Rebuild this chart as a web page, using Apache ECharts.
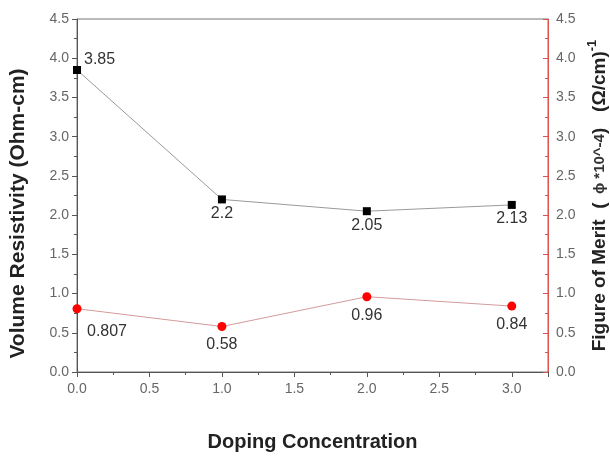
<!DOCTYPE html>
<html><head><meta charset="utf-8">
<script src="https://cdn.jsdelivr.net/npm/echarts@6/dist/echarts.min.js"></script>
<style>html,body{margin:0;padding:0;background:#fff}#c{width:610px;height:464px}</style>
</head><body><div id="c"></div>
<script>
const doping = [0, 1, 2, 3];
const resistivity = [3.85, 2.2, 2.05, 2.13];
const merit = [0.807, 0.58, 0.96, 0.84];
const resLabelPos = ['right', 'bottom', 'bottom', 'bottom'];
const meritLabelPos = ['bottom', 'bottom', 'bottom', 'bottom'];

const chart = echarts.init(document.getElementById('c'));
const FF = 'Liberation Sans, Arial';
const tickLabel = {color: '#666', fontSize: 14, fontFamily: FF};

chart.setOption({
  animation: false,
  grid: {left: 77, right: 62, top: 19, bottom: 92, show: true, borderColor: '#777', borderWidth: 1, containLabel: false, outerBoundsMode: 'none'},
  xAxis: {
    type: 'value', min: 0, max: 3.25, interval: 0.5,
    name: 'Doping Concentration', nameLocation: 'middle', nameGap: 60,
    nameTextStyle: {color: '#222', fontSize: 20, fontWeight: 'bold', fontFamily: FF},
    axisLine: {lineStyle: {color: '#555'}},
    axisTick: {inside: false, length: 5, lineStyle: {color: '#555'}},
    minorTick: {show: true, splitNumber: 2, length: 3, lineStyle: {color: '#555'}},
    splitLine: {show: false},
    axisLabel: Object.assign({margin: 10, formatter: v => (v > 3.1 ? '' : v.toFixed(1)), showMaxLabel: false}, tickLabel)
  },
  yAxis: [{
    type: 'value', min: 0, max: 4.5, interval: 0.5, position: 'left',
    name: 'Volume Resistivity (Ohm-cm)', nameLocation: 'middle', nameGap: 48, nameRotate: 90,
    nameTextStyle: {color: '#222', fontSize: 21, fontWeight: 'bold', fontFamily: FF, padding: [0, 36, 0, 0]},
    axisLine: {show: true, lineStyle: {color: '#555'}},
    axisTick: {show: true, length: 5, lineStyle: {color: '#555'}},
    minorTick: {show: true, splitNumber: 2, length: 3, lineStyle: {color: '#555'}},
    splitLine: {show: false},
    axisLabel: Object.assign({margin: 8, formatter: v => v.toFixed(1)}, tickLabel)
  }, {
    type: 'value', min: 0, max: 4.5, interval: 0.5, position: 'right',
    name: '{n|Figure of Merit  (}{p|  ϕ *10^-4}{n|)   (Ω/cm)}{s|-1}', nameLocation: 'middle', nameGap: 32, nameRotate: 90,
    nameTextStyle: {rich: {
      n: {color: '#222', fontSize: 19, fontWeight: 'bold', fontFamily: FF},
      p: {color: '#333', fontSize: 15, fontWeight: 'bold', fontFamily: FF},
      s: {color: '#222', fontSize: 13, fontWeight: 'bold', fontFamily: FF, verticalAlign: 'top', padding: [0, 0, 13, 0]}
    }},
    axisLine: {show: true, lineStyle: {color: '#d9534f'}},
    axisTick: {show: true, inside: true, length: 5, lineStyle: {color: '#d9534f'}},
    minorTick: {show: true, splitNumber: 2, length: 3, lineStyle: {color: '#d9534f'}},
    splitLine: {show: false},
    axisLabel: Object.assign({margin: 8, formatter: v => v.toFixed(1)}, tickLabel)
  }],
  series: [{
    type: 'line', yAxisIndex: 0,
    data: doping.map((x, i) => ({value: [x, resistivity[i]], label: {position: resLabelPos[i], distance: resLabelPos[i] === 'right' ? 3 : 2, offset: resLabelPos[i] === 'right' ? [0, -10] : [0, 0]}})),
    symbol: 'rect', symbolSize: 8,
    itemStyle: {color: '#000'},
    lineStyle: {color: '#999', width: 1},
    label: {show: true, fontSize: 16, color: '#333', fontFamily: FF, formatter: p => String(p.value[1])}
  }, {
    type: 'line', yAxisIndex: 1,
    data: doping.map((x, i) => ({value: [x, merit[i]], label: {position: meritLabelPos[i], distance: 6, offset: i === 0 ? [30, 4] : [0, 0]}})),
    symbol: 'circle', symbolSize: 9,
    itemStyle: {color: '#ff0000'},
    lineStyle: {color: '#d49a9a', width: 1},
    label: {show: true, fontSize: 16, color: '#333', fontFamily: FF, formatter: p => String(p.value[1])}
  }]
});
</script></body></html>
